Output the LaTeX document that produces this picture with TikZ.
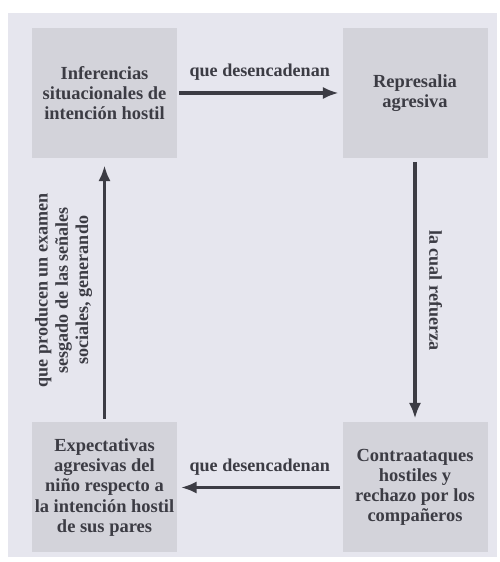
\documentclass[tikz,border=0pt]{standalone}
\usepackage{fontspec}
\setmainfont{Liberation Serif}
\usetikzlibrary{arrows.meta}

\definecolor{panelgray}{HTML}{E6E6EE}
\definecolor{boxgray}{HTML}{D3D3DA}
\definecolor{inkgray}{HTML}{3C3C44}

\tikzset{
  caja/.style={fill=boxgray, minimum width=2.9cm, minimum height=2.6cm,
    align=center, inner sep=0pt, text=inkgray,
    font=\bfseries\fontsize{10.5}{11.5}\selectfont},
  flecha/.style={draw=inkgray, line width=2.2pt, -{Latex[length=9pt,width=7pt]}},
  etiqueta/.style={text=inkgray, align=center, inner sep=0pt,
    font=\bfseries\fontsize{10.3}{11.5}\selectfont}
}

\begin{document}
\begin{tikzpicture}
  \useasboundingbox (0, 0) rectangle (10, 11.24);
  \fill[panelgray] (0.16, 0.10) rectangle (9.94, 10.98);

  \node[caja] (inf) at (2.09, 9.38) {Inferencias\\ situacionales de\\ intención hostil};
  \node[caja] (rep) at (8.30, 9.38) {Represalia\\ agresiva};
  \node[caja] (con) at (8.30, 1.49) {Contraataques\\ hostiles y\\ rechazo por los\\ compañeros};
  \node[caja] (exp) at (2.09, 1.49) {Expectativas\\ agresivas del\\ niño respecto a\\ la intención hostil\\ de sus pares};

  % ciclo de flechas
  \draw[flecha, shorten <=1pt, shorten >=2pt] (inf.east) -- (rep.west)
    node[etiqueta, midway, above=6pt] (et1) {que desencadenan};
  \draw[flecha, shorten <=2pt, shorten >=2pt] (rep.south) -- (con.north)
    node[etiqueta, midway, right=7pt, rotate=-90, anchor=south] (et2) {la cual refuerza};
  \draw[flecha, shorten <=1pt, shorten >=2pt] (con.west) -- (exp.east)
    node[etiqueta, midway, above=6pt] (et3) {que desencadenan};
  \draw[flecha, shorten <=2pt, shorten >=4pt] (exp.north) -- (inf.south)
    node[etiqueta, midway, rotate=90, anchor=south, yshift=6pt] (et4)
      {que producen un examen\\ sesgado de las señales\\ sociales, generando};
\end{tikzpicture}
\end{document}
